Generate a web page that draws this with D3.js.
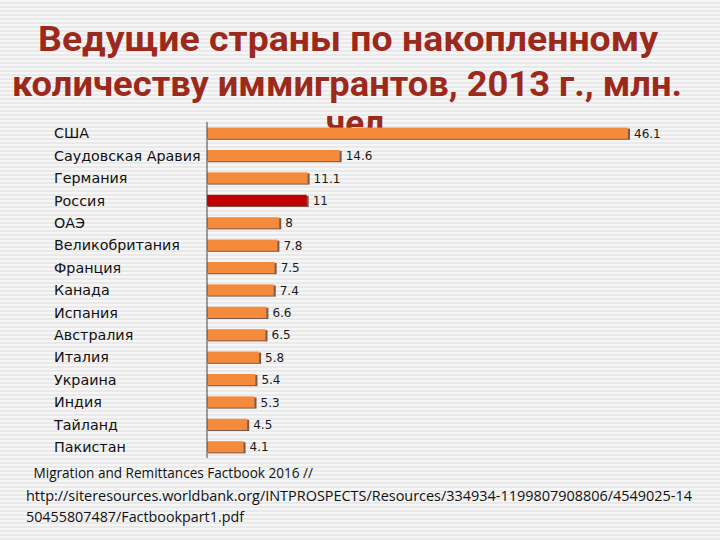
<!DOCTYPE html>
<html>
<head>
<meta charset="utf-8">
<script src="https://cdn.jsdelivr.net/npm/d3@7"></script>
<style>
  body { margin: 0; }
  svg { display: block; }
</style>
</head>
<body>
<div id="chart"></div>
<script>
// data
const countries = ["США", "Саудовская Аравия", "Германия", "Россия", "ОАЭ", "Великобритания",
  "Франция", "Канада", "Испания", "Австралия", "Италия", "Украина", "Индия", "Тайланд", "Пакистан"];
const migrants = [46.1, 14.6, 11.1, 11, 8, 7.8, 7.5, 7.4, 6.6, 6.5, 5.8, 5.4, 5.3, 4.5, 4.1];
const valueLabels = ["46.1", "14.6", "11.1", "11", "8", "7.8", "7.5", "7.4", "6.6", "6.5", "5.8", "5.4", "5.3", "4.5", "4.1"];
const highlight = "Россия";
const titleLines = ["Ведущие страны по накопленному", "количеству иммигрантов, 2013 г., млн.", "чел."];
const sourceLines = [" Migration and Remittances Factbook 2016 //",
  "http://siteresources.worldbank.org/INTPROSPECTS/Resources/334934-1199807908806/4549025-14",
  "50455807487/Factbookpart1.pdf"];

const W = 720, H = 540;
const svg = d3.select("#chart").append("svg")
  .attr("width", W).attr("height", H);

// striped slide background
const defs = svg.append("defs");
const pat = defs.append("pattern")
  .attr("id", "stripes")
  .attr("width", 8).attr("height", 4)
  .attr("patternUnits", "userSpaceOnUse");
pat.append("rect").attr("width", 8).attr("height", 4).attr("fill", "#f6f6f6");
pat.append("rect").attr("y", 2).attr("width", 8).attr("height", 2).attr("fill", "#e9e9e9");
svg.append("rect").attr("width", W).attr("height", H).attr("fill", "url(#stripes)");

// title (third line sits behind the first bar, as on the slide)
const titleY = [51, 96, 135];
const titleX = [38, 12, 360];
const titleW = [620, 670, null];
svg.append("g").selectAll("text")
  .data(titleLines)
  .join("text")
  .attr("x", (d, i) => titleX[i])
  .attr("y", (d, i) => titleY[i])
  .attr("text-anchor", (d, i) => titleW[i] ? "start" : "middle")
  .attr("font-family", "Roboto, sans-serif")
  .attr("font-weight", "bold")
  .attr("font-size", 35)
  .attr("fill", "#9b2a1c")
  .each(function (d, i) {
    if (titleW[i]) d3.select(this).attr("textLength", titleW[i]).attr("lengthAdjust", "spacingAndGlyphs");
  })
  .text(d => d);

// scales
const x0 = 207;
const x = d3.scaleLinear().domain([0, 46.1]).range([x0, 629]);
const y = d3.scaleBand().domain(countries).range([122, 458]).paddingInner(0.5).paddingOuter(0.25);

const chart = svg.append("g");

// bar shadows
chart.selectAll("rect.shadow")
  .data(migrants)
  .join("rect")
  .attr("class", "shadow")
  .attr("x", x0 + 1)
  .attr("y", (d, i) => y(countries[i]) + 1)
  .attr("width", d => x(d) - x0)
  .attr("height", y.bandwidth())
  .attr("fill", "#7a5a48");

// bars
chart.selectAll("rect.bar")
  .data(migrants)
  .join("rect")
  .attr("class", "bar")
  .attr("x", x0)
  .attr("y", (d, i) => y(countries[i]))
  .attr("width", d => x(d) - x0 - 1)
  .attr("height", y.bandwidth())
  .attr("fill", (d, i) => countries[i] === highlight ? "#c00000" : "#f58a3c");

// axis line
chart.append("g")
  .attr("transform", `translate(${x0},0)`)
  .call(d3.axisLeft(y).tickSize(0).tickFormat(""))
  .call(g => g.select(".domain").attr("stroke", "#444").attr("d", "M0,122V458"));

// category labels
chart.selectAll("text.cat")
  .data(countries)
  .join("text")
  .attr("class", "cat")
  .attr("x", 54)
  .attr("y", d => y(d) + y.bandwidth() / 2)
  .attr("dy", "0.36em")
  .attr("font-family", "DejaVu Sans, Verdana, sans-serif")
  .attr("font-size", 14.3)
  .attr("fill", "#111")
  .text(d => d);

// value labels
chart.selectAll("text.val")
  .data(migrants)
  .join("text")
  .attr("class", "val")
  .attr("x", d => x(d) + 5)
  .attr("y", (d, i) => y(countries[i]) + y.bandwidth() / 2)
  .attr("dy", "0.38em")
  .attr("font-family", "DejaVu Sans, Verdana, sans-serif")
  .attr("font-size", 12)
  .attr("fill", "#1a1a1a")
  .text((d, i) => valueLabels[i]);

// source
const srcX = [30, 26, 26];
const srcY = [478, 501, 522];
const srcW = [283, 666, 218];
svg.append("g").selectAll("text")
  .data(sourceLines)
  .join("text")
  .attr("x", (d, i) => srcX[i])
  .attr("y", (d, i) => srcY[i])
  .attr("font-family", "Open Sans, sans-serif")
  .attr("font-size", 14)
  .attr("fill", "#111")
  .attr("textLength", (d, i) => srcW[i])
  .attr("lengthAdjust", "spacingAndGlyphs")
  .attr("xml:space", "preserve")
  .text(d => d);
</script>
</body>
</html>
